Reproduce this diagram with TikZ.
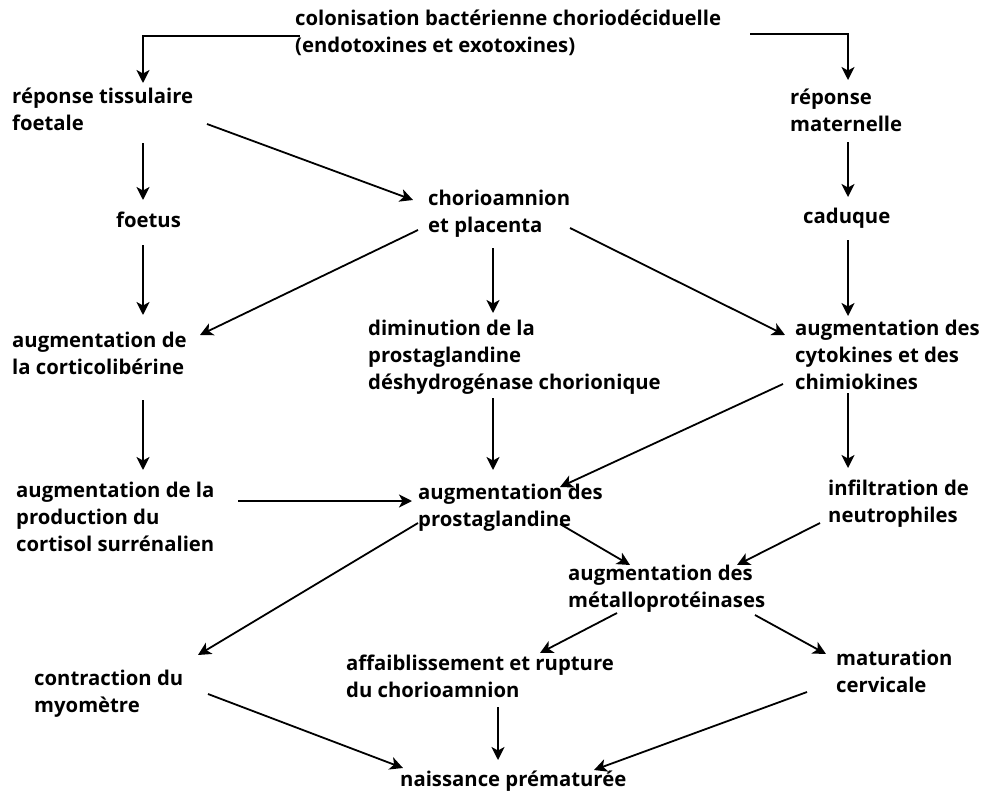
\documentclass[tikz,border=0pt]{standalone}
\usepackage{fontspec}
\setmainfont{Open Sans}
\usetikzlibrary{arrows.meta}
\newcommand{\mylines}[1]{\begin{tabular}[t]{@{}l@{}}#1\end{tabular}}
\tikzset{
  lbl/.style={anchor=base west, inner sep=0pt, font=\bfseries\fontsize{20.3}{27}\selectfont},
  arr/.style={line width=1.8pt, -{Stealth[length=13pt,width=13pt,inset=3.5pt]}}
}
\begin{document}
\begin{tikzpicture}[x=1pt,y=-1pt]
\useasboundingbox (0,0) rectangle (989,792);
\node[lbl] (title) at (295,26) {\mylines{colonisation bactérienne choriodéciduelle\\(endotoxines et exotoxines)}};
\node[lbl] (rt) at (12,103) {\mylines{réponse tissulaire\\foetale}};
\node[lbl] (rm) at (790,105) {\mylines{réponse\\maternelle}};
\node[lbl] (foetus) at (116,227) {foetus};
\node[lbl] (chorio) at (428,205) {\mylines{chorioamnion\\et placenta}};
\node[lbl] (cad) at (803,223) {caduque};
\node[lbl] (cortico) at (12,347) {\mylines{augmentation de\\la corticolibérine}};
\node[lbl] (dimin) at (368,335) {\mylines{diminution de la\\prostaglandine\\déshydrogénase chorionique}};
\node[lbl] (cyto) at (795,335) {\mylines{augmentation des\\cytokines et des\\chimiokines}};
\node[lbl] (cortisol) at (16,497) {\mylines{augmentation de la\\production du\\cortisol surrénalien}};
\node[lbl] (prosta) at (418,499) {\mylines{augmentation des\\prostaglandine}};
\node[lbl] (infil) at (828,495) {\mylines{infiltration de\\neutrophiles}};
\node[lbl] (metallo) at (568,580) {\mylines{augmentation des\\métalloprotéinases}};
\node[lbl] (contr) at (34,685) {\mylines{contraction du\\myomètre}};
\node[lbl] (affai) at (346,670) {\mylines{affaiblissement et rupture\\du chorioamnion}};
\node[lbl] (matur) at (836,665) {\mylines{maturation\\cervicale}};
\node[lbl] (naiss) at (400,786) {naissance prématurée};

\draw[arr] ([shift={(5,10)}]title.base west) -| ([shift={(131,-20)}]rt.base west);
\draw[arr] ([shift={(455,8)}]title.base west) -| ([shift={(58,-25)}]rm.base west);
\draw[arr] ([shift={(131,40)}]rt.base west) -- ([shift={(27,-27)}]foetus.base west);
\draw[arr] ([shift={(195,21)}]rt.base west) -- ([shift={(-15,-5)}]chorio.base west);
\draw[arr] ([shift={(58,37)}]rm.base west) -- ([shift={(45,-26)}]cad.base west);
\draw[arr] ([shift={(27,18)}]foetus.base west) -- ([shift={(131,-32)}]cortico.base west);
\draw[arr] ([shift={(-10,25)}]chorio.base west) -- ([shift={(188,-12)}]cortico.base west);
\draw[arr] ([shift={(65,43)}]chorio.base west) -- ([shift={(125,-22)}]dimin.base west);
\draw[arr] ([shift={(142,23)}]chorio.base west) -- ([shift={(-10,0)}]cyto.base west);
\draw[arr] ([shift={(45,17)}]cad.base west) -- ([shift={(53,-19)}]cyto.base west);
\draw[arr] ([shift={(131,53)}]cortico.base west) -- ([shift={(127,-27)}]cortisol.base west);
\draw[arr] ([shift={(125,63)}]dimin.base west) -- ([shift={(75,-29)}]prosta.base west);
\draw[arr] ([shift={(-12,49)}]cyto.base west) -- ([shift={(142,-12)}]prosta.base west);
\draw[arr] ([shift={(53,58)}]cyto.base west) -- ([shift={(20,-27)}]infil.base west);
\draw[arr] ([shift={(222,4)}]cortisol.base west) -- ([shift={(-6,2)}]prosta.base west);
\draw[arr] ([shift={(142,25)}]prosta.base west) -- ([shift={(62,-15)}]metallo.base west);
\draw[arr] ([shift={(-8,28)}]infil.base west) -- ([shift={(169,-15)}]metallo.base west);
\draw[arr] ([shift={(0,24)}]prosta.base west) -- ([shift={(164,-30)}]contr.base west);
\draw[arr] ([shift={(49,33)}]metallo.base west) -- ([shift={(194,-17)}]affai.base west);
\draw[arr] ([shift={(187,35)}]metallo.base west) -- ([shift={(-10,-11)}]matur.base west);
\draw[arr] ([shift={(174,9)}]contr.base west) -- ([shift={(3,-18)}]naiss.base west);
\draw[arr] ([shift={(152,37)}]affai.base west) -- ([shift={(98,-26)}]naiss.base west);
\draw[arr] ([shift={(-29,27)}]matur.base west) -- ([shift={(194,-16)}]naiss.base west);
\end{tikzpicture}
\end{document}
